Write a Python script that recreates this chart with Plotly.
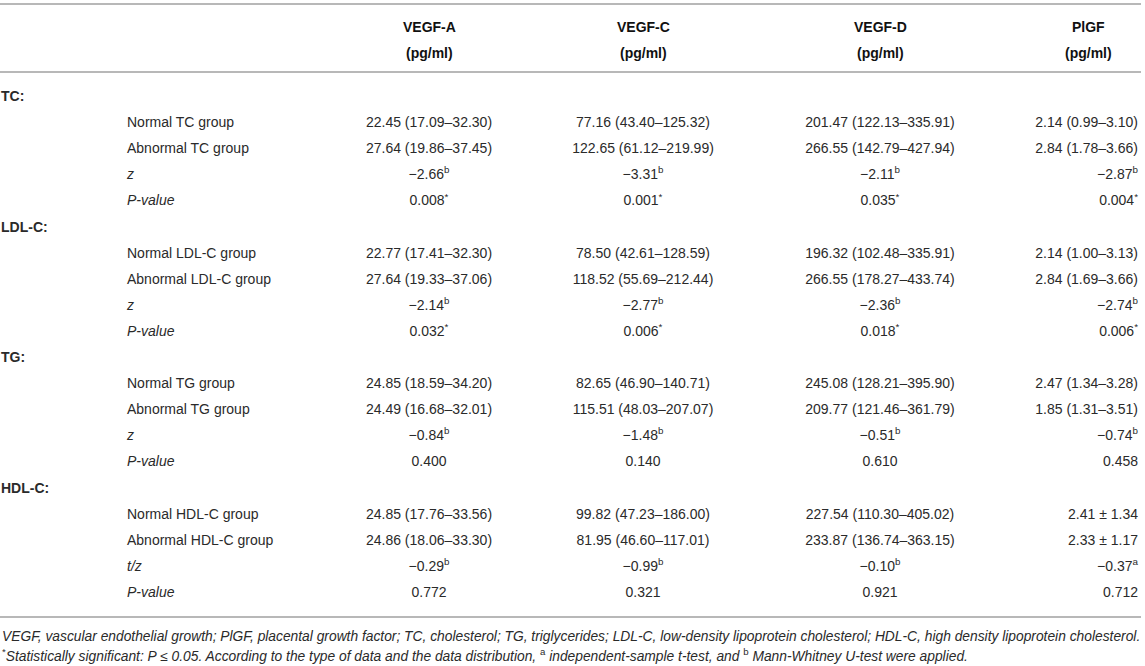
import plotly.graph_objects as go

markers = ["VEGF-A", "VEGF-C", "VEGF-D", "PlGF"]
unit = "(pg/ml)"
lipids = ["TC", "LDL-C", "TG", "HDL-C"]
stat_names = ["z", "z", "z", "t/z"]

# 4 rows per lipid: normal group, abnormal group, test statistic, P-value
vegf_a = ["22.45 (17.09–32.30)", "27.64 (19.86–37.45)", "−2.66<sup>b</sup>", "0.008<sup>*</sup>",
          "22.77 (17.41–32.30)", "27.64 (19.33–37.06)", "−2.14<sup>b</sup>", "0.032<sup>*</sup>",
          "24.85 (18.59–34.20)", "24.49 (16.68–32.01)", "−0.84<sup>b</sup>", "0.400",
          "24.85 (17.76–33.56)", "24.86 (18.06–33.30)", "−0.29<sup>b</sup>", "0.772"]
vegf_c = ["77.16 (43.40–125.32)", "122.65 (61.12–219.99)", "−3.31<sup>b</sup>", "0.001<sup>*</sup>",
          "78.50 (42.61–128.59)", "118.52 (55.69–212.44)", "−2.77<sup>b</sup>", "0.006<sup>*</sup>",
          "82.65 (46.90–140.71)", "115.51 (48.03–207.07)", "−1.48<sup>b</sup>", "0.140",
          "99.82 (47.23–186.00)", "81.95 (46.60–117.01)", "−0.99<sup>b</sup>", "0.321"]
vegf_d = ["201.47 (122.13–335.91)", "266.55 (142.79–427.94)", "−2.11<sup>b</sup>", "0.035<sup>*</sup>",
          "196.32 (102.48–335.91)", "266.55 (178.27–433.74)", "−2.36<sup>b</sup>", "0.018<sup>*</sup>",
          "245.08 (128.21–395.90)", "209.77 (121.46–361.79)", "−0.51<sup>b</sup>", "0.610",
          "227.54 (110.30–405.02)", "233.87 (136.74–363.15)", "−0.10<sup>b</sup>", "0.921"]
plgf = ["2.14 (0.99–3.10)", "2.84 (1.78–3.66)", "−2.87<sup>b</sup>", "0.004<sup>*</sup>",
        "2.14 (1.00–3.13)", "2.84 (1.69–3.66)", "−2.74<sup>b</sup>", "0.006<sup>*</sup>",
        "2.47 (1.34–3.28)", "1.85 (1.31–3.51)", "−0.74<sup>b</sup>", "0.458",
        "2.41 ± 1.34", "2.33 ± 1.17", "−0.37<sup>a</sup>", "0.712"]

footnotes = [
    "<i>VEGF, vascular endothelial growth; PlGF, placental growth factor; TC, cholesterol; TG, triglycerides; "
    "LDL-C, low-density lipoprotein cholesterol; HDL-C, high density lipoprotein cholesterol.</i>",
    "<sup>*</sup><i>Statistically significant: P ≤ 0.05. According to the type of data and the data distribution, </i>"
    "<sup>a</sup><i> independent-sample t-test, and </i><sup>b</sup><i> Mann-Whitney U-test were applied.</i>",
]

W, H = 1145, 666
font = "Liberation Sans, Arial, sans-serif"
txt = "#2a2a2a"
rule = "#b8b8b8"

# layout (pixels): column anchors, header centres, row grid, rules
col_x = [1, 127, 429, 643, 880, 1138]
col_pos = ["middle right", "middle right", "middle center", "middle center", "middle center", "middle left"]
head_x = [429, 643, 880, 1088]
row0, row_h = 97.5, 26.1
rules_y = [4, 72, 617]
foot_y = [636, 655]

col_label, col_group = [], []
col_vals = [[], [], [], []]
for i, lipid in enumerate(lipids):
    col_label += [f"<b>{lipid}:</b>", "", "", "", ""]
    col_group += ["", f"Normal {lipid} group", f"Abnormal {lipid} group",
                  f"<i>{stat_names[i]}</i>", "<i>P-value</i>"]
    for j, col in enumerate([vegf_a, vegf_c, vegf_d, plgf]):
        col_vals[j] += [""] + col[4 * i:4 * i + 4]

columns = [col_label, col_group] + col_vals

fig = go.Figure()
for j, col in enumerate(columns):
    rows = [r for r, t in enumerate(col) if t]
    fig.add_trace(go.Scatter(
        x=[col_x[j]] * len(rows), y=rows, text=[col[r] for r in rows],
        mode="text", textposition=col_pos[j], cliponaxis=False,
        textfont=dict(family=font, size=14, color=txt),
        hoverinfo="skip", showlegend=False,
    ))

def py(y):
    return 1 - y / H

for k, m in enumerate(markers):
    for text, y in [(f"<b>{m}</b>", 27), (f"<b>{unit}</b>", 53)]:
        fig.add_annotation(text=text, x=head_x[k], xref="x", y=py(y), yref="paper",
                           xanchor="center", yanchor="middle", showarrow=False,
                           font=dict(family=font, size=14, color="#111111"))

for y in rules_y:
    fig.add_shape(type="line", xref="paper", yref="paper",
                  x0=0, x1=1141 / W, y0=py(y), y1=py(y),
                  line=dict(color=rule, width=2))

for k, note in enumerate(footnotes):
    fig.add_annotation(text=note, xref="paper", yref="paper",
                       x=0, y=py(foot_y[k]), xanchor="left", yanchor="middle",
                       showarrow=False, font=dict(family=font, size=13.8, color=txt))

fig.update_layout(
    width=W, height=H,
    margin=dict(l=0, r=0, t=0, b=0),
    paper_bgcolor="white",
    plot_bgcolor="white",
    xaxis=dict(range=[0, W], visible=False, fixedrange=True),
    yaxis=dict(range=[(H - row0) / row_h, -row0 / row_h], visible=False, fixedrange=True),
)

fig.write_html("out.html", config={"displayModeBar": False},
               post_script="document.body.style.margin = '0';")
